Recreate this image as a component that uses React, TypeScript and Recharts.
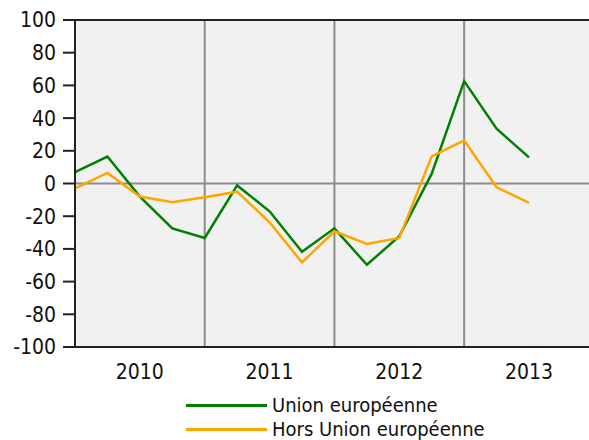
import React from 'react';
import { LineChart, Line, XAxis, YAxis, CartesianGrid, ReferenceLine, ReferenceArea } from 'recharts';

const quarters = [0, 1, 2, 3, 4, 5, 6, 7, 8, 9, 10, 11, 12, 13, 14];
const unionEuropeenne = [7, 16.5, -8, -27.5, -33.3, -1.2, -17, -41.7, -27.4, -49.7, -32.3, 6, 62.6, 33.5, 16];
const horsUnion = [-3, 6.5, -8, -11.5, -8.4, -5, -23.7, -48.3, -29.2, -37, -33.3, 16.6, 26.4, -2.3, -11.8];
const yearTicks = [2, 6, 10, 14];
const yearLabels = ['2010', '2011', '2012', '2013'];
const yearBoundaries = [4, 8, 12];
const yTicks = [-100, -80, -60, -40, -20, 0, 20, 40, 60, 80, 100];

const seriesNames = ['Union européenne', 'Hors Union européenne'];
const seriesColors = ['#008000', '#ffa500'];

const data = quarters.map((q, i) => ({ q, ue: unionEuropeenne[i], hue: horsUnion[i] }));

const FONT = "'DejaVu Sans Condensed', 'DejaVu Sans', sans-serif";

export default function App() {
  return (
    <div style={{ position: 'absolute', left: 0, top: 0, width: 589, height: 440, background: '#fff', fontFamily: FONT }}>
      <LineChart width={589} height={440} data={data} margin={{ top: 20, right: 0, bottom: 63, left: 0 }}>
        <ReferenceArea x1={0} x2={15.85} y1={-100} y2={100} fill="#f1f1f1" fillOpacity={1} stroke="none" ifOverflow="hidden" />
        <CartesianGrid stroke="#e6e6e6" strokeWidth={1.5} />
        {yearBoundaries.map((b) => (
          <ReferenceLine key={b} x={b} stroke="#8c8c8c" strokeWidth={2} />
        ))}
        <ReferenceLine y={0} stroke="#8c8c8c" strokeWidth={2} />
        <ReferenceLine y={100} stroke="#222" strokeWidth={2} />
        <XAxis
          dataKey="q"
          type="number"
          domain={[0, 15.85]}
          ticks={yearTicks}
          tickFormatter={(v: number) => yearLabels[yearTicks.indexOf(v)]}
          tickLine={false}
          tickSize={6}
          tickMargin={11}
          height={30}
          axisLine={{ stroke: '#222', strokeWidth: 2 }}
          tick={{ fill: '#111', fontSize: 21, fontFamily: FONT }}
          allowDataOverflow
        />
        <YAxis
          type="number"
          domain={[-100, 100]}
          ticks={yTicks}
          width={75}
          tickSize={12}
          tickMargin={7}
          interval={0}
          axisLine={{ stroke: '#222', strokeWidth: 2 }}
          tickLine={{ stroke: '#222', strokeWidth: 2 }}
          tick={{ fill: '#111', fontSize: 21, fontFamily: FONT }}
        />
        <Line dataKey="ue" name={seriesNames[0]} stroke={seriesColors[0]} strokeWidth={2.5} dot={false} isAnimationActive={false} />
        <Line dataKey="hue" name={seriesNames[1]} stroke={seriesColors[1]} strokeWidth={2.5} dot={false} isAnimationActive={false} />
      </LineChart>
      {seriesNames.map((name, i) => (
        <div key={name} style={{ position: 'absolute', left: 186, top: 393 + i * 24, height: 24, display: 'flex', alignItems: 'center', fontSize: 20, color: '#111', fontFamily: FONT, whiteSpace: 'nowrap' }}>
          <div style={{ width: 81, height: 3, background: seriesColors[i], marginRight: 5 }} />
          <span>{name}</span>
        </div>
      ))}
    </div>
  );
}
